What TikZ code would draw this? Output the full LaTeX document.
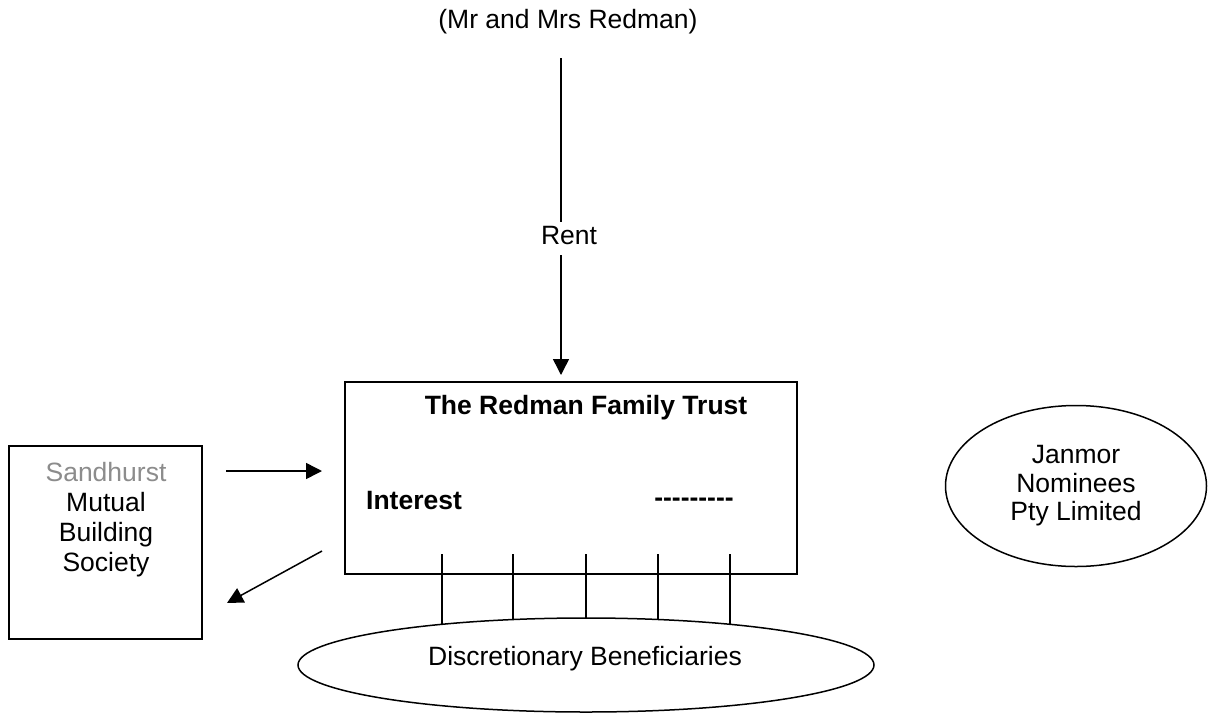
\documentclass[tikz,border=0pt]{standalone}
\usepackage{fontspec}
\setmainfont{Liberation Sans}
\usetikzlibrary{arrows.meta,shapes.geometric,backgrounds}
\definecolor{softgray}{gray}{0.55}
\begin{document}
\begin{tikzpicture}[x=1pt,y=-1pt,line width=1.5pt,
  lbl/.style={font=\fontsize{26.5}{30}\selectfont, inner sep=0pt, align=center},
  blbl/.style={font=\fontsize{26.5}{30}\selectfont\bfseries, inner sep=0pt, align=center},
  arr/.style={-{Triangle[length=16pt,width=16pt]}},
  box/.style={draw, inner sep=0pt},
  oval/.style={draw, ellipse, inner sep=0pt},
  link/.style={line width=1.5pt}]
\useasboundingbox (0,0) rectangle (1216,713);

% top parties
\node[lbl] (parents) at (568,22) {(Mr and Mrs Redman)};
\node[lbl] (rent) at (569,236) {Rent};
\coordinate (rtop) at (561,58);
\coordinate (rmidA) at (561,222);
\coordinate (rmidB) at (561,255);
\coordinate (rtip) at (561,375);
\draw[link] (rtop) -- (rmidA);
\draw[link, arr] (rmidB) -- (rtip);

% trust
\node[box, minimum width=452, minimum height=192] (trust) at (571,478) {};
\node[blbl] (title) at (586,408) {The Redman Family Trust};
\node[blbl] (interest) at (414,501) {Interest};
\node[blbl] (dashes) at (694,502) {-{}-{}-{}-{}-{}-{}-{}-{}-};

% Sandhurst
\node[box, minimum width=193, minimum height=193] (sand) at (105.5,542.5) {};
\node[lbl] (sandtxt) at (106,520) {\textcolor{softgray}{Sandhurst}\\Mutual\\Building\\Society};
\coordinate (a1s) at (226,471);
\coordinate (a1e) at (322,471);
\coordinate (a2s) at (322,551);
\coordinate (a2e) at (227,603);
\draw[link, arr] (a1s) -- (a1e);
\draw[link, arr] (a2s) -- (a2e);

% Janmor
\node[oval, minimum width=261, minimum height=161, lbl, font=\fontsize{26.5}{28.5}\selectfont] (janmor) at (1076,486) {Janmor\\Nominees\\Pty Limited};

% beneficiaries
\node[oval, fill=white, minimum width=576, minimum height=94] (ben) at (586,665) {};
\node[lbl] (bentxt) at (585,659) {Discretionary Beneficiaries};
\begin{scope}[on background layer]
\foreach \i/\x in {1/442,2/513,3/586,4/658,5/730} {
  \coordinate (b\i) at (\x,554);
  \draw[link] (b\i) -- (b\i |- ben.center);
}
\end{scope}
\end{tikzpicture}
\end{document}
